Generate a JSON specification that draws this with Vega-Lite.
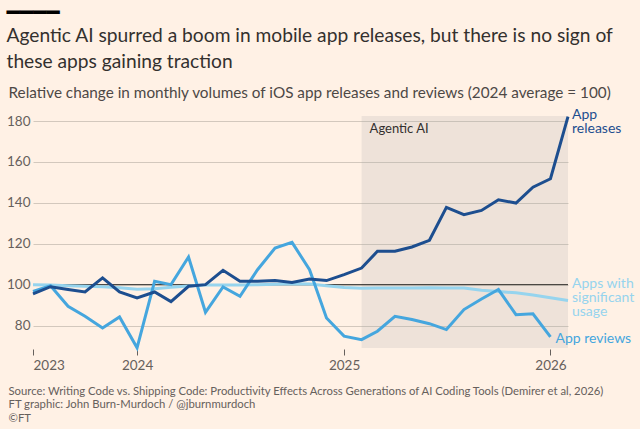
{
  "$schema": "https://vega.github.io/schema/vega-lite/v6.json",
  "width": 535,
  "height": 232,
  "autosize": {"type": "none"},
  "padding": {"left": 33, "top": 116, "right": 72, "bottom": 81},
  "background": "#fff1e5",
  "config": {"view": {"stroke": null}, "font": "Lato"},
  "title": {
    "text": "━━━━",
    "subtitle": [
      "Agentic AI spurred a boom in mobile app releases, but there is no sign of",
      "these apps gaining traction"
    ],
    "anchor": "start",
    "font": "DejaVu Sans Mono",
    "fontSize": 22,
    "fontWeight": "normal",
    "color": "#000000",
    "subtitleFont": "Lato",
    "subtitleFontSize": 19.2,
    "subtitleColor": "#33302e",
    "subtitleLineHeight": 26,
    "subtitlePadding": 2,
    "offset": 12
  },
  "datasets": {
    "monthly": [
      {"date": "2023-07-01", "releases": 95.5, "reviews": 96.7, "usage": 100},
      {"date": "2023-08-01", "releases": 99, "reviews": 99.5, "usage": 99.8},
      {"date": "2023-09-01", "releases": 97.6, "reviews": 89.4, "usage": 99.5},
      {"date": "2023-10-01", "releases": 96.4, "reviews": 84.5, "usage": 99.2},
      {"date": "2023-11-01", "releases": 103.3, "reviews": 78.8, "usage": 99},
      {"date": "2023-12-01", "releases": 96.4, "reviews": 84.2, "usage": 98.5},
      {"date": "2024-01-01", "releases": 93.5, "reviews": 69.1, "usage": 97.8},
      {"date": "2024-02-01", "releases": 96.4, "reviews": 101.6, "usage": 98},
      {"date": "2024-03-01", "releases": 91.7, "reviews": 100, "usage": 98.7},
      {"date": "2024-04-01", "releases": 99.2, "reviews": 113.5, "usage": 99.3},
      {"date": "2024-05-01", "releases": 100, "reviews": 86.5, "usage": 99.8},
      {"date": "2024-06-01", "releases": 107, "reviews": 98.9, "usage": 99.8},
      {"date": "2024-07-01", "releases": 101.6, "reviews": 94.3, "usage": 99.8},
      {"date": "2024-08-01", "releases": 101.6, "reviews": 107.3, "usage": 100},
      {"date": "2024-09-01", "releases": 102, "reviews": 117.9, "usage": 100.2},
      {"date": "2024-10-01", "releases": 101.1, "reviews": 120.7, "usage": 100.4},
      {"date": "2024-11-01", "releases": 102.8, "reviews": 107.3, "usage": 100.3},
      {"date": "2024-12-01", "releases": 102, "reviews": 83.7, "usage": 99.5},
      {"date": "2025-01-01", "releases": 104.9, "reviews": 74.8, "usage": 98.6},
      {"date": "2025-02-01", "releases": 108.1, "reviews": 73.1, "usage": 98.2},
      {"date": "2025-03-01", "releases": 116.3, "reviews": 77.2, "usage": 98.3},
      {"date": "2025-04-01", "releases": 116.3, "reviews": 84.5, "usage": 98.4},
      {"date": "2025-05-01", "releases": 118.4, "reviews": 82.9, "usage": 98.4},
      {"date": "2025-06-01", "releases": 121.7, "reviews": 80.9, "usage": 98.5},
      {"date": "2025-07-01", "releases": 137.8, "reviews": 78, "usage": 98.4},
      {"date": "2025-08-01", "releases": 134.2, "reviews": 87.8, "usage": 98.3},
      {"date": "2025-09-01", "releases": 136.3, "reviews": 93, "usage": 97.2},
      {"date": "2025-10-01", "releases": 141.5, "reviews": 97.6, "usage": 96.6},
      {"date": "2025-11-01", "releases": 139.9, "reviews": 85.3, "usage": 96},
      {"date": "2025-12-01", "releases": 147.7, "reviews": 85.7, "usage": 94.9},
      {"date": "2026-01-01", "releases": 151.8, "reviews": 74.4, "usage": 93.6},
      {"date": "2026-02-01", "releases": 182.2, "reviews": null, "usage": 92.2}
    ],
    "periods": [
      {"start": "2025-02-01", "end": "2026-02-01", "label": "Agentic AI"}
    ],
    "labels": [
      {"series": "releases", "date": "2026-02-01", "value": 182.2, "label": "App\nreleases"},
      {"series": "usage", "date": "2026-02-01", "value": 92.2, "label": "Apps with\nsignificant\nusage"},
      {"series": "reviews", "date": "2026-01-01", "value": 74.4, "label": "App reviews"}
    ]
  },
  "layer": [
    {
      "data": {"name": "periods"},
      "mark": {"type": "rect", "fill": "#a8a8a8", "opacity": 0.2},
      "encoding": {
        "x": {"field": "start", "type": "temporal"},
        "x2": {"field": "end"}
      }
    },
    {
      "data": {"name": "periods"},
      "mark": {"type": "text", "align": "left", "baseline": "top", "dx": 8, "dy": 2, "fontSize": 13, "color": "#33302e"},
      "encoding": {
        "x": {"field": "start", "type": "temporal"},
        "y": {"datum": 180},
        "text": {"field": "label"}
      }
    },
    {
      "data": {"values": [{"base": 100}]},
      "mark": {"type": "rule", "color": "#33302e", "strokeWidth": 1},
      "encoding": {
        "y": {"field": "base", "type": "quantitative"}
      }
    },
    {
      "data": {"name": "monthly"},
      "transform": [
        {"fold": ["usage", "reviews", "releases"], "as": ["series", "value"]},
        {"filter": "isValid(datum.value)"}
      ],
      "mark": {"type": "line", "strokeWidth": 3},
      "encoding": {
        "x": {
          "field": "date",
          "type": "temporal",
          "scale": {
            "type": "utc",
            "domain": [
              {"year": 2023, "month": 7, "date": 1, "utc": true},
              {"year": 2026, "month": 2, "date": 1, "utc": true}
            ]
          },
          "axis": {
            "values": [
              {"year": 2023, "month": 7, "date": 1, "utc": true},
              {"year": 2024, "month": 1, "date": 1, "utc": true},
              {"year": 2025, "month": 1, "date": 1, "utc": true},
              {"year": 2026, "month": 1, "date": 1, "utc": true}
            ],
            "labelExpr": "utcFormat(datum.value, '%Y')",
            "domain": false,
            "grid": false,
            "ticks": true,
            "tickSize": 6,
            "tickColor": "#66605c",
            "offset": 1,
            "labelFontSize": 13.5,
            "labelColor": "#66605c",
            "labelPadding": 3,
            "title": [
              "Source: Writing Code vs. Shipping Code: Productivity Effects Across Generations of AI Coding Tools (Demirer et al, 2026)",
              "FT graphic: John Burn-Murdoch / @jburnmurdoch",
              "©FT"
            ],
            "titleAlign": "left",
            "titleAnchor": "start",
            "titleX": -25,
            "titleY": 36,
            "titleBaseline": "top",
            "titleFontSize": 11.3,
            "titleFontWeight": "normal",
            "titleColor": "#66605c",
            "titleLineHeight": 13.5
          }
        },
        "y": {
          "field": "value",
          "type": "quantitative",
          "scale": {"domain": [69, 182.5], "nice": false, "zero": false},
          "axis": {
            "values": [80, 100, 120, 140, 160, 180],
            "domain": false,
            "ticks": false,
            "grid": true,
            "gridColor": "#d3c8bd",
            "labelFontSize": 13.5,
            "labelColor": "#66605c",
            "labelPadding": 3,
            "title": "Relative change in monthly volumes of iOS app releases and reviews (2024 average = 100)",
            "titleAngle": 0,
            "titleAlign": "left",
            "titleBaseline": "middle",
            "titleX": -25,
            "titleY": -24,
            "titleFontSize": 15.3,
            "titleFontWeight": "normal",
            "titleColor": "#4d4845"
          }
        },
        "color": {
          "field": "series",
          "type": "nominal",
          "scale": {"domain": ["usage", "reviews", "releases"], "range": ["#96d4ee", "#45a6de", "#1d4e8f"]},
          "legend": null
        }
      }
    },
    {
      "data": {"name": "labels"},
      "transform": [{"filter": "datum.series == 'releases'"}],
      "mark": {"type": "text", "align": "left", "baseline": "top", "dx": 4, "dy": -9, "fontSize": 14, "lineHeight": 14, "lineBreak": "\n"},
      "encoding": {
        "x": {"field": "date", "type": "temporal"},
        "y": {"field": "value", "type": "quantitative"},
        "text": {"field": "label"},
        "color": {"field": "series", "type": "nominal", "legend": null}
      }
    },
    {
      "data": {"name": "labels"},
      "transform": [{"filter": "datum.series == 'usage'"}],
      "mark": {"type": "text", "align": "left", "baseline": "top", "dx": 4, "dy": -24, "fontSize": 14, "lineHeight": 14, "lineBreak": "\n"},
      "encoding": {
        "x": {"field": "date", "type": "temporal"},
        "y": {"field": "value", "type": "quantitative"},
        "text": {"field": "label"},
        "color": {"field": "series", "type": "nominal", "legend": null}
      }
    },
    {
      "data": {"name": "labels"},
      "transform": [{"filter": "datum.series == 'reviews'"}],
      "mark": {"type": "text", "align": "left", "baseline": "middle", "dx": 5, "dy": 2, "fontSize": 14},
      "encoding": {
        "x": {"field": "date", "type": "temporal"},
        "y": {"field": "value", "type": "quantitative"},
        "text": {"field": "label"},
        "color": {"field": "series", "type": "nominal", "legend": null}
      }
    }
  ]
}
